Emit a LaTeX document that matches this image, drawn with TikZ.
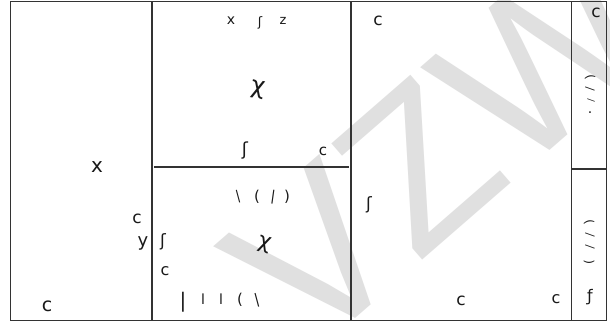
\documentclass[tikz,border=0pt]{standalone}
\usepackage{fontspec}
\newfontfamily\wmfont{Liberation Sans}
\newfontfamily\scrib{DejaVu Sans}
\begin{document}
\begin{tikzpicture}[x=1pt,y=-1pt,
  frame/.style={draw=black!80,line width=1.1pt},
  mk/.style={font=\scrib\fontsize{#1}{#1}\selectfont,inner sep=0pt,text=black!90},
  wm/.style={text=black!12,font=\wmfont\fontsize{214}{214}\selectfont,inner sep=0pt}]
\useasboundingbox (0,0) rectangle (610,322);
\fill[white] (0,0) rectangle (610,322);
% watermark
\node[wm,rotate=41] (wmark) at (441,147) {VZW};
% frame and panels
\draw[frame] (10.5,1.5) rectangle (606.5,320.5);
\draw[frame] (152,1.5) -- (152,320.5);
\draw[frame] (351,1.5) -- (351,320.5);
\draw[frame] (571.5,1.5) -- (571.5,320.5);
\draw[frame] (154,167) -- (349,167);
\draw[frame] (571.5,169) -- (606.5,169);
% left panel
\node[mk=20] (l1) at (97,167) {x};
\node[mk=17] (l2) at (137,219) {c};
\node[mk=18] (l3) at (143,243) {y};
\node[mk=19] (l4) at (47,306) {c};
% middle top
\node[mk=14] (t1) at (231,21) {x};
\node[mk=13] (t2) at (260,23) {ʃ};
\node[mk=13] (t3) at (283,21) {z};
\node[mk=24,rotate=-10] (t4) at (258,90) {χ};
\node[mk=18] (t5) at (245,151) {ʃ};
\node[mk=15] (t6) at (323,151) {c};
% middle bottom
\node[mk=13,rotate=15] (b1) at (238,197) {|};
\node[mk=15] (b2) at (257,197) {(};
\node[mk=14,rotate=-8] (b3) at (273,197) {|};
\node[mk=15] (b4) at (287,197) {)};
\node[mk=17] (b5) at (163,242) {ʃ};
\node[mk=16] (b6) at (165,271) {c};
\node[mk=22,rotate=-15] (b7) at (265,245) {χ};
\node[mk=20] (b8) at (183,302) {|};
\node[mk=14] (b9) at (203,299) {l};
\node[mk=14] (b10) at (221,299) {l};
\node[mk=15] (b11) at (240,300) {(};
\node[mk=14,rotate=15] (b12) at (257,300) {|};
% right big panel
\node[mk=17] (r1) at (378,21) {c};
\node[mk=17] (r2) at (369,205) {ʃ};
\node[mk=17] (r3) at (461,301) {c};
\node[mk=16] (r4) at (556,299) {c};
% right column
\node[mk=17] (c1) at (596,13) {c};
\node[mk=12,rotate=-80] (c2) at (590,77) {(};
\node[mk=10,rotate=70] (c3) at (590,89) {|};
\node[mk=8,rotate=70] (c4) at (591,101) {|};
\node[mk=14] (c5) at (590,113) {.};
\node[mk=12,rotate=-80] (c6) at (589,222) {(};
\node[mk=10,rotate=70] (c7) at (590,235) {|};
\node[mk=10,rotate=70] (c8) at (590,247) {|};
\node[mk=12,rotate=90] (c9) at (589,262) {(};
\node[mk=16] (c10) at (590,297) {ƒ};
\end{tikzpicture}
\end{document}
